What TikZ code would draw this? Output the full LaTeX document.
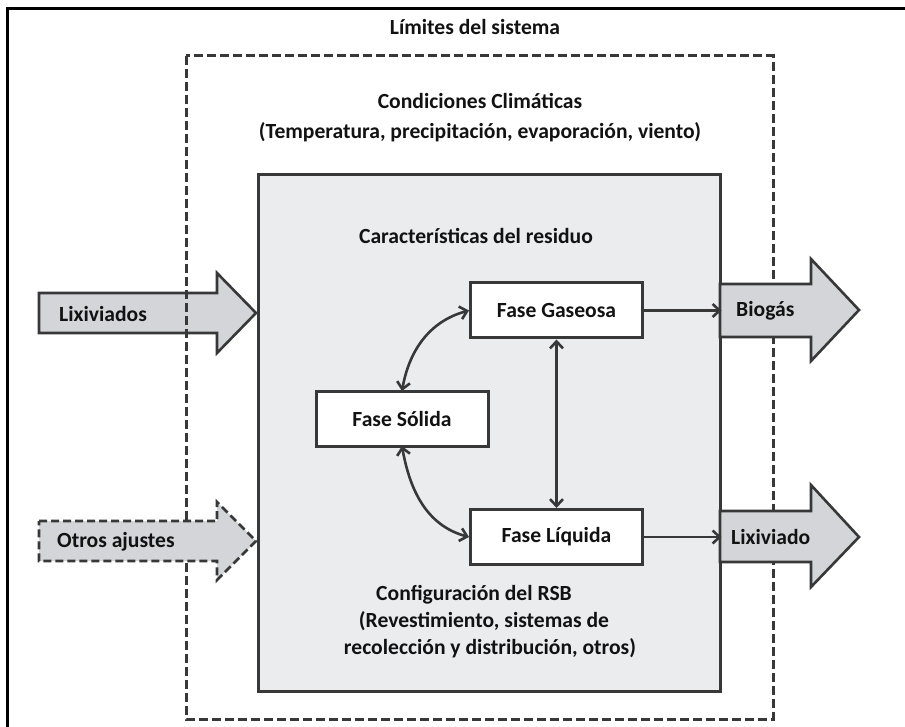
\documentclass[tikz,border=0pt]{standalone}
\usepackage{fontspec}
\setmainfont{Carlito}
\usetikzlibrary{arrows.meta}
\definecolor{linegray}{HTML}{383838}
\definecolor{boxfill}{HTML}{EBECEE}
\definecolor{arrowfill}{HTML}{D4D5D8}
\definecolor{textcol}{HTML}{121212}
\tikzset{
  lbl/.style={font=\fontsize{21.6}{28}\selectfont\bfseries, text=textcol, inner sep=0pt},
  phase/.style={draw=linegray, line width=3pt, fill=white, minimum width=172pt, minimum height=55pt,
    font=\fontsize{21.6}{24}\selectfont\bfseries, text=textcol, inner sep=0pt},
  flow/.style={draw=linegray, line width=2.6pt, {Straight Barb[length=7pt,width=13pt]}-{Straight Barb[length=7pt,width=13pt]}},
  outflow/.style={draw=linegray, line width=2.6pt, -{Straight Barb[length=7pt,width=13pt]}},
  bigarrow/.style={draw=linegray, line width=2.6pt, fill=arrowfill, line join=miter},
  boundary/.style={draw=linegray, line width=3pt, dash pattern=on 9pt off 4pt},
}
\begin{document}
\begin{tikzpicture}[x=1pt, y=-1pt]
\useasboundingbox (0,0) rectangle (905,727);
\fill[white] (0,0) rectangle (905,727);

% outer frame (top and left edges)
\draw[black, line width=3pt] (7,727) -- (7,9) -- (905,9);
\node[lbl] (limites) at (475,27) {Límites del sistema};

% incoming leachate arrow (lies under the boundary line)
\draw[bigarrow] (39,293) -- (217,293) -- (217,273) -- (256,313) -- (217,353) -- (217,333) -- (39,333) -- cycle;

% system boundary
\draw[boundary] (186,56) rectangle (773,719);

% other inputs arrow
\draw[bigarrow, dash pattern=on 8pt off 4pt] (39,521) -- (217,521) -- (217,502) -- (256,541) -- (217,580) -- (217,561) -- (39,561) -- cycle;

\node[lbl, align=center, font=\fontsize{21.6}{30}\selectfont\bfseries] (clima) at (480,118) {Condiciones Climáticas\\(Temperatura, precipitación, evaporación, viento)};

% landfill body
\node[draw=linegray, line width=3pt, fill=boxfill, minimum width=462pt, minimum height=516pt, inner sep=0pt] (rsb) at (489,433) {};

% outgoing arrows
\draw[bigarrow] (720,284) -- (811,284) -- (811,259) -- (859,310) -- (811,361) -- (811,337) -- (720,337) -- cycle;
\draw[bigarrow] (720,511) -- (811,511) -- (811,485) -- (859,537) -- (811,587) -- (811,562) -- (720,562) -- cycle;

\node[lbl, anchor=west] (lixin) at (59,314) {Lixiviados};
\node[lbl, anchor=west] (otros) at (57,542) {Otros ajustes};
\node[lbl, anchor=west] (biogas) at (736,311) {Biogás};
\node[lbl, anchor=west] (lixout) at (731,537) {Lixiviado};

\node[lbl] (residuo) at (476,236) {Características del residuo};
\node[lbl, align=center, font=\fontsize{21.6}{27}\selectfont\bfseries] (config) at (484,622)
  {Configuración del RSB\hspace*{20pt}\\(Revestimiento, sistemas de\\\hspace*{12pt}recolección y distribución, otros)};

% phases
\node[phase] (gas) at (556.5,310.5) {Fase Gaseosa};
\node[phase] (sol) at (402,418.5) {Fase Sólida};
\node[phase] (liq) at (556.5,537) {Fase Líquida};

\coordinate (soltop) at (402,391);
\coordinate (solbot) at (402,446);
\draw[flow] (gas.west) to[out=195, in=80] (soltop);
\draw[flow] (solbot) to[out=-80, in=165] (liq.west);
\draw[flow] (gas.south) -- (liq.north);
\draw[outflow] (gas.east) -- (gas.east -| rsb.east);
\draw[outflow] (liq.east) -- (liq.east -| rsb.east);
\end{tikzpicture}
\end{document}
